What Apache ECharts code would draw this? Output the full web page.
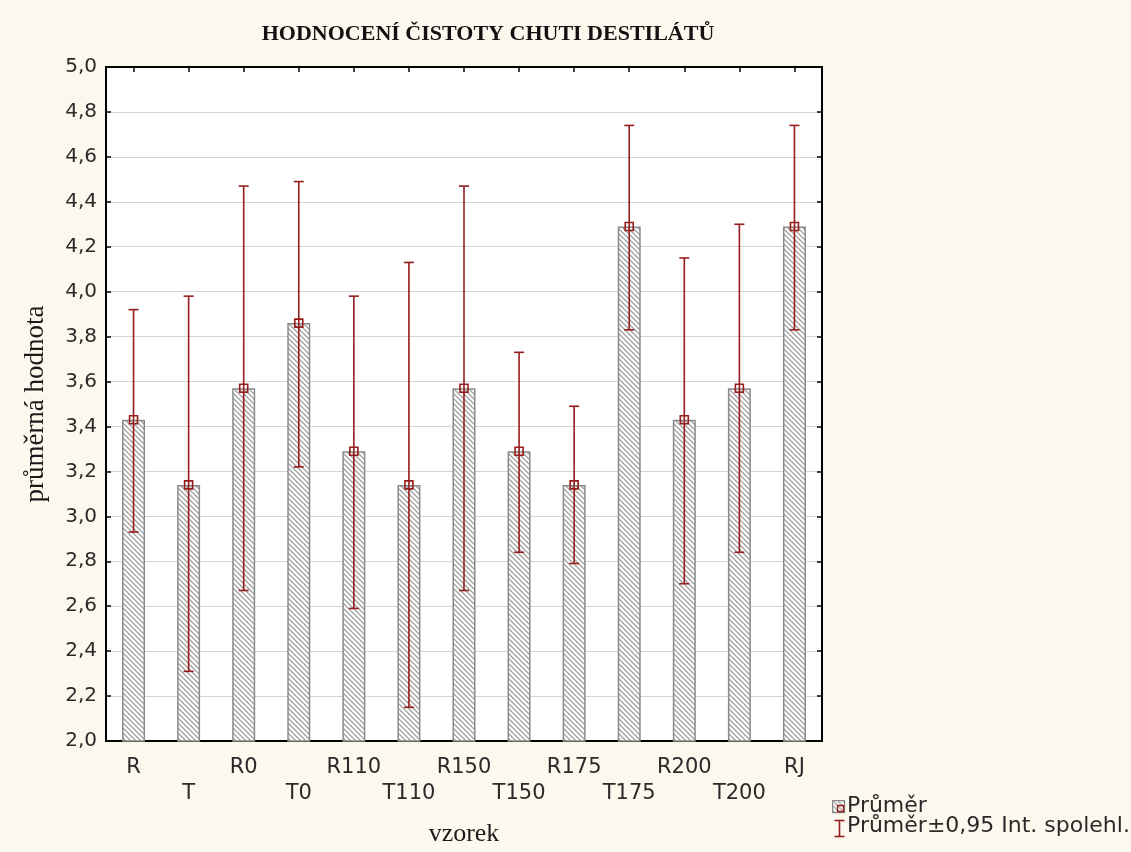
<!DOCTYPE html>
<html>
<head>
<meta charset="utf-8">
<script src="https://cdn.jsdelivr.net/npm/echarts@6/dist/echarts.min.js"></script>
<style>
  html, body { margin: 0; padding: 0; background: #fcf8ee; }
  #chart { width: 1131px; height: 852px; }
</style>
</head>
<body>
<div id="chart"></div>
<script>
// Samples (vzorek)
const categories = ['R', 'T', 'R0', 'T0', 'R110', 'T110', 'R150', 'T150', 'R175', 'T175', 'R200', 'T200', 'RJ'];
// Mean score per sample
const means = [3.43, 3.14, 3.57, 3.86, 3.29, 3.14, 3.57, 3.29, 3.14, 4.29, 3.43, 3.57, 4.29];
// 0.95 confidence interval bounds
const lowerCI = [2.93, 2.31, 2.67, 3.22, 2.59, 2.15, 2.67, 2.84, 2.79, 3.83, 2.70, 2.84, 3.83];
const upperCI = [3.92, 3.98, 4.47, 4.49, 3.98, 4.13, 4.47, 3.73, 3.49, 4.74, 4.15, 4.30, 4.74];
// Value axis range
const yMin = 2.0, yMax = 5.0, yStep = 0.2;

const ERR = '#951d1d';
const SANS = '"DejaVu Sans", Verdana, sans-serif';
const SERIF = '"Liberation Serif", "Times New Roman", serif';

// diagonal hatch fill for the bars
function hatch() {
  const s = 5;
  const c = document.createElement('canvas');
  c.width = s; c.height = s;
  const g = c.getContext('2d');
  g.fillStyle = '#ffffff';
  g.fillRect(0, 0, s, s);
  g.strokeStyle = '#a0a0a0';
  g.lineWidth = 1.3;
  g.beginPath();
  g.moveTo(-1, -1); g.lineTo(s + 1, s + 1);
  g.moveTo(-1, s - 1); g.lineTo(1, s + 1);
  g.moveTo(s - 1, -1); g.lineTo(s + 1, 1);
  g.stroke();
  return { image: c, repeat: 'repeat' };
}
const hatchFill = hatch();

const errData = categories.map((c, i) => [i, lowerCI[i], upperCI[i], means[i]]);

const chart = echarts.init(document.getElementById('chart'), null, { renderer: 'canvas' });

const axisBlack = { show: true, lineStyle: { color: '#000', width: 2 } };
const inTick = { show: true, inside: true, length: 5, lineStyle: { color: '#000', width: 1.5 } };

chart.setOption({
  animation: false,
  backgroundColor: '#fcf8ee',
  title: {
    text: 'HODNOCENÍ ČISTOTY CHUTI DESTILÁTŮ',
    left: 483, top: 18, textAlign: 'center',
    textStyle: { fontFamily: SERIF, fontWeight: 'bold', fontSize: 22, color: '#111' }
  },
  grid: { left: 106, right: 309, top: 67, bottom: 102, show: true, backgroundColor: '#ffffff', borderWidth: 0 },
  xAxis: [{
    type: 'category', data: categories, position: 'bottom',
    boundaryGap: true,
    name: 'vzorek', nameLocation: 'middle', nameGap: 80,
    nameTextStyle: { fontFamily: SERIF, fontSize: 26, color: '#1a1a1a' },
    axisLine: axisBlack,
    axisTick: Object.assign({ alignWithLabel: true }, inTick),
    axisLabel: {
      interval: 0, margin: 14, fontFamily: SANS, fontSize: 21, color: '#2a2a2a', lineHeight: 26,
      formatter: (v, i) => (i % 2 ? '\n' + v : v)
    },
    splitLine: { show: false }
  }, {
    type: 'category', data: categories, position: 'top',
    boundaryGap: true,
    axisLine: axisBlack,
    axisTick: Object.assign({ alignWithLabel: true }, inTick),
    axisLabel: { show: false },
    splitLine: { show: false }
  }],
  yAxis: [{
    type: 'value', min: yMin, max: yMax, interval: yStep, position: 'left',
    name: 'průměrná hodnota', nameLocation: 'middle', nameGap: 57, nameRotate: 90,
    nameTextStyle: { fontFamily: SERIF, fontSize: 27, color: '#1a1a1a' },
    axisLine: axisBlack,
    axisTick: inTick,
    axisLabel: { margin: 9, fontFamily: SANS, fontSize: 20, color: '#2a2a2a',
      formatter: v => v.toFixed(1).replace('.', ',') },
    splitLine: { show: true, lineStyle: { color: '#d4d4d4', width: 1 } }
  }, {
    type: 'value', min: yMin, max: yMax, interval: yStep, position: 'right',
    axisLine: axisBlack,
    axisTick: inTick,
    axisLabel: { show: false },
    splitLine: { show: false }
  }],
  series: [{
    name: 'Průměr',
    type: 'bar',
    data: means,
    barWidth: 23,
    clip: true,
    itemStyle: { color: hatchFill, borderColor: '#8a8a8a', borderWidth: 1.5 },
    z: 2
  }, {
    name: 'Průměr±0,95 Int. spolehl.',
    type: 'custom',
    data: errData,
    z: 5,
    renderItem: function (params, api) {
      const x = api.value(0);
      const top = api.coord([x, api.value(2)]);
      const bot = api.coord([x, api.value(1)]);
      const mid = api.coord([x, api.value(3)]);
      const cap = 5, sq = 4;
      const ls = { stroke: ERR, lineWidth: 1.6 };
      return {
        type: 'group',
        children: [
          { type: 'line', shape: { x1: top[0], y1: top[1], x2: bot[0], y2: bot[1] }, style: ls },
          { type: 'line', shape: { x1: top[0] - cap, y1: top[1], x2: top[0] + cap, y2: top[1] }, style: ls },
          { type: 'line', shape: { x1: bot[0] - cap, y1: bot[1], x2: bot[0] + cap, y2: bot[1] }, style: ls },
          { type: 'rect', shape: { x: mid[0] - sq, y: mid[1] - sq, width: sq * 2, height: sq * 2 },
            style: { fill: null, stroke: ERR, lineWidth: 1.6 } }
        ]
      };
    }
  }],
  graphic: [
    { type: 'rect', left: 832, top: 800, shape: { width: 12, height: 12 },
      style: { fill: hatchFill, stroke: '#8a8a8a', lineWidth: 1.2 } },
    { type: 'rect', left: 835, top: 803, shape: { width: 6, height: 6 },
      style: { fill: null, stroke: ERR, lineWidth: 1.3 } },
    { type: 'text', left: 847, top: 795,
      style: { text: 'Průměr', font: '22px ' + SANS, fill: '#2a2a2a' } },
    { type: 'group', left: 832, top: 818, children: [
      { type: 'line', shape: { x1: 6, y1: 0, x2: 6, y2: 16 }, style: { stroke: ERR, lineWidth: 1.6 } },
      { type: 'line', shape: { x1: 1, y1: 0, x2: 11, y2: 0 }, style: { stroke: ERR, lineWidth: 1.6 } },
      { type: 'line', shape: { x1: 1, y1: 16, x2: 11, y2: 16 }, style: { stroke: ERR, lineWidth: 1.6 } }
    ] },
    { type: 'text', left: 847, top: 815,
      style: { text: 'Průměr±0,95 Int. spolehl.', font: '22px ' + SANS, fill: '#2a2a2a' } }
  ]
});
</script>
</body>
</html>
